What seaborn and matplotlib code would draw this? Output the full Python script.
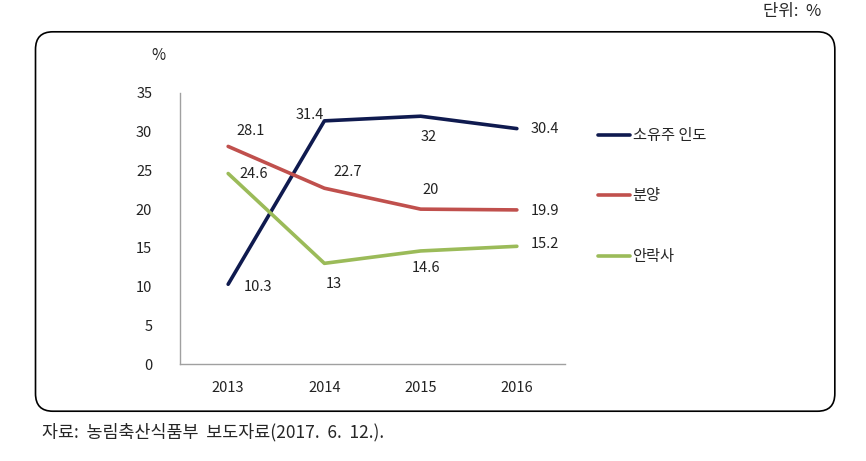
import pandas as pd
import seaborn as sns
import matplotlib.pyplot as plt
from matplotlib.patches import FancyBboxPatch

# data
years = [2013, 2014, 2015, 2016]
series_names = ['소유주 인도', '분양', '안락사']
owner_return = [10.3, 31.4, 32, 30.4]
adoption = [28.1, 22.7, 20, 19.9]
euthanasia = [24.6, 13, 14.6, 15.2]
y_ticks = [0, 5, 10, 15, 20, 25, 30, 35]

colors = ['#0f1a4f', '#c0504d', '#9bbb59']

# label offsets in pixels (dx, dy) for each point, Excel-like placement
label_offsets = {
    '소유주 인도': [(30, -3), (-15, 6), (8, -21), (28, 0)],
    '분양': [(22, 15), (23, 16), (10, 19), (28, -1)],
    '안락사': [(26, 0), (9, -21), (5, -17), (28, 2)],
}

sns.set_style('white')
plt.rcParams['font.family'] = ['Noto Sans CJK KR', 'DejaVu Sans']

df = pd.DataFrame({
    'year': years * 3,
    'value': owner_return + adoption + euthanasia,
    'kind': [series_names[0]] * 4 + [series_names[1]] * 4 + [series_names[2]] * 4,
})

fig = plt.figure(figsize=(8.66, 4.61), dpi=100)

# rounded frame around the chart
box = FancyBboxPatch((0.041, 0.108), 0.923, 0.823,
                     boxstyle='round,pad=0,rounding_size=0.02',
                     transform=fig.transFigure, fill=False,
                     edgecolor='black', linewidth=1.2, mutation_aspect=1.9)
fig.patches.append(box)

ax = fig.add_axes([0.2079, 0.2104, 0.4445, 0.5879])
sns.lineplot(data=df, x='year', y='value', hue='kind', palette=colors,
             linewidth=2.6, ax=ax, legend=True)

for name, vals in zip(series_names, [owner_return, adoption, euthanasia]):
    for yr, v, (dx, dy) in zip(years, vals, label_offsets[name]):
        ax.annotate(f'{v:g}', (yr, v), xytext=(dx, dy), textcoords='offset pixels',
                    ha='center', va='center', fontsize=10.5, color='#222222')

ax.set_xlim(2012.5, 2016.5)
ax.set_ylim(0, 35)
ax.set_xticks(years)
ax.set_yticks(y_ticks)
ax.set_xlabel('')
ax.set_ylabel('')
ax.tick_params(axis='both', length=0, labelsize=10.5, colors='#222222', pad=12)
ax.tick_params(axis='y', pad=20)
for side in ['top', 'right']:
    ax.spines[side].set_visible(False)
for side in ['left', 'bottom']:
    ax.spines[side].set_color('#a0a0a0')
    ax.spines[side].set_linewidth(1.0)

ax.legend(loc='upper left', bbox_to_anchor=(0.683, 0.738), bbox_transform=fig.transFigure,
          frameon=False, fontsize=11, labelspacing=2.85, handlelength=2.1,
          handletextpad=0.2, borderaxespad=0)

fig.text(0.183, 0.88, '%', fontsize=11, ha='center', va='center', color='#222222')
fig.text(0.948, 0.975, '단위:  %', fontsize=12, ha='right', va='center')
fig.text(0.048, 0.062, '자료:  농림축산식품부  보도자료(2017.  6.  12.).', fontsize=12.5,
         ha='left', va='center')

fig.savefig('out.png', dpi=100)
